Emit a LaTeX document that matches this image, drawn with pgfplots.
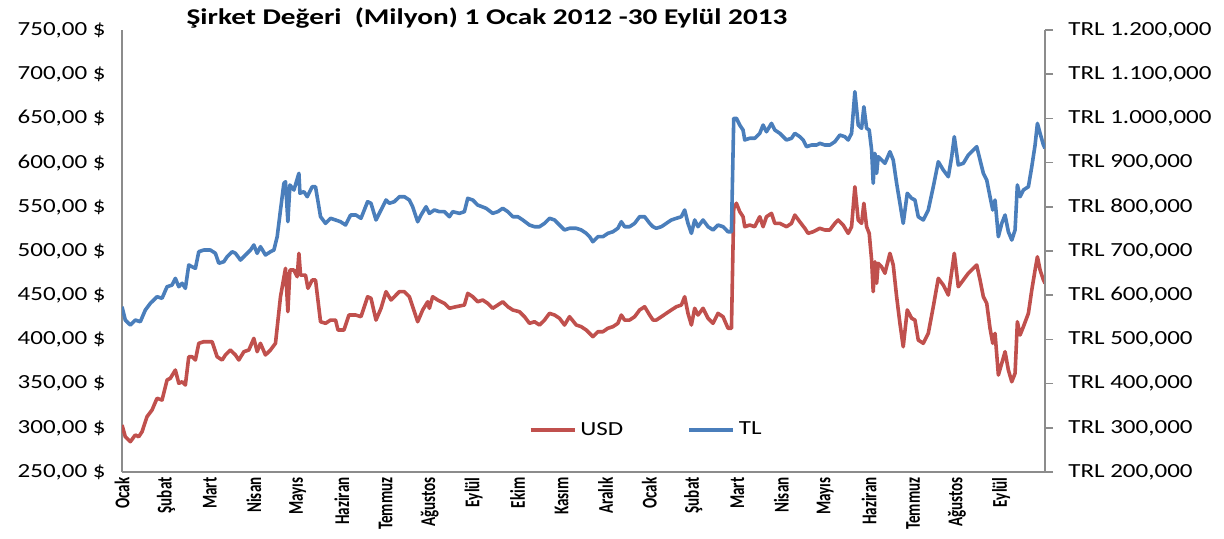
\documentclass[border=0pt]{standalone}
\usepackage{fontspec}
\usepackage{pgfplots}
\usepackage{pgfplotstable}
\pgfplotsset{compat=1.18}
\setmainfont{Carlito}
\newfontfamily\lbl{Carlito}[FakeStretch=1.25]
\newfontfamily\ttl{Carlito}[FakeStretch=1.3]
\newfontfamily\xl{Carlito}[FakeStretch=0.72]
\definecolor{usdred}{HTML}{C0504D}
\definecolor{tlblue}{HTML}{4A7EBB}
\definecolor{axgray}{HTML}{8C8C8C}

\pgfplotstableread{
x y
0 303.2
0.075 289.9
0.189 284.3
0.303 291.9
0.380 289.9
0.456 295.6
0.569 312.6
0.683 320.1
0.797 333.4
0.911 331.4
1.025 354.1
1.100 356.0
1.214 365.4
1.292 350.3
1.367 352.1
1.442 348.4
1.519 380.4
1.595 380.4
1.670 376.7
1.747 395.6
1.861 397.4
2.050 397.4
2.164 380.4
2.278 376.7
2.353 382.4
2.467 388.0
2.581 382.4
2.658 376.7
2.772 386.1
2.886 388.0
3.000 401.2
3.075 386.1
3.150 395.6
3.264 382.4
3.378 388.0
3.492 395.6
3.606 448.3
3.720 480.4
3.774 431.3
3.820 478.5
3.911 478.5
3.986 470.9
4.025 497.4
4.062 472.8
4.175 472.8
4.230 457.8
4.328 467.2
4.403 467.2
4.517 420.0
4.631 418.2
4.745 421.9
4.859 421.9
4.914 410.6
5.050 410.6
5.164 427.6
5.319 427.6
5.437 425.7
5.588 448.3
5.665 446.5
5.779 421.9
5.893 435.2
6.007 454.0
6.121 444.6
6.196 448.3
6.310 454.0
6.424 454.0
6.538 448.3
6.727 420.0
6.841 433.3
6.955 442.6
6.993 435.2
7.068 448.3
7.182 444.6
7.335 440.8
7.449 435.2
7.601 437.0
7.790 438.9
7.866 452.1
7.980 448.3
8.093 442.6
8.207 444.6
8.321 440.8
8.435 435.2
8.549 438.9
8.663 442.6
8.777 437.0
8.891 433.3
9.043 431.3
9.157 425.7
9.271 418.2
9.385 420.0
9.499 416.3
9.613 421.9
9.727 429.5
9.841 427.6
9.954 423.9
10.068 416.3
10.182 425.7
10.335 416.3
10.449 414.4
10.563 410.6
10.638 406.9
10.713 403.1
10.827 408.7
10.941 408.7
11.055 412.6
11.169 414.4
11.282 418.2
11.360 427.6
11.435 421.9
11.549 421.9
11.663 425.7
11.777 433.3
11.891 437.0
12.005 427.6
12.080 421.9
12.157 421.9
12.271 425.7
12.385 429.5
12.499 433.3
12.613 437.0
12.727 438.9
12.802 448.3
12.877 429.5
12.955 416.3
13.030 435.2
13.105 427.6
13.219 435.2
13.333 423.9
13.447 418.2
13.560 429.5
13.674 425.7
13.788 412.6
13.866 412.6
13.918 548.3
13.979 554.0
14.055 544.5
14.130 538.8
14.169 527.5
14.282 529.4
14.396 527.5
14.510 538.8
14.586 527.5
14.663 538.8
14.777 542.6
14.852 531.3
14.966 531.3
15.118 527.5
15.232 531.3
15.308 540.7
15.421 533.1
15.535 525.7
15.610 520.0
15.724 521.8
15.877 525.7
15.991 523.8
16.105 523.8
16.219 531.3
16.294 535.1
16.408 529.4
16.522 520.0
16.599 527.5
16.674 572.7
16.750 535.1
16.827 531.3
16.879 554.0
16.941 527.5
17.000 520.0
17.055 489.8
17.091 454.0
17.130 487.9
17.169 463.5
17.205 486.1
17.282 482.2
17.358 474.8
17.472 497.4
17.547 484.2
17.624 448.3
17.699 418.2
17.774 391.7
17.866 433.3
17.966 423.9
18.041 421.9
18.116 399.3
18.230 395.6
18.344 406.9
18.458 437.0
18.572 469.1
18.686 461.5
18.800 450.2
18.877 476.6
18.936 497.4
19.027 459.6
19.141 467.2
19.255 474.8
19.447 484.2
19.522 467.2
19.597 448.3
19.674 440.8
19.749 412.6
19.811 395.6
19.863 406.9
19.939 359.7
20.016 373.0
20.091 386.1
20.166 365.4
20.244 352.1
20.319 361.7
20.371 420.0
20.433 405.0
20.508 414.4
20.622 429.5
20.699 455.9
20.774 478.5
20.827 493.5
20.888 478.5
20.964 467.2
21.000 463.5
}\usdtable

\pgfplotstableread{
x y
0 574000
0.075 543800
0.189 532600
0.303 543800
0.417 540000
0.531 566600
0.645 581600
0.797 596600
0.911 593000
1.025 619200
1.139 623000
1.214 638200
1.292 619200
1.367 627000
1.442 615600
1.519 668400
1.595 664400
1.670 660800
1.747 698400
1.861 702200
2.011 702200
2.125 694800
2.203 672200
2.317 675800
2.392 687000
2.506 698400
2.581 694800
2.695 679600
2.809 691000
2.923 702200
3.000 713600
3.075 694800
3.150 709800
3.264 691000
3.378 698400
3.456 702200
3.531 732400
3.606 792800
3.683 853200
3.720 856800
3.774 766200
3.820 849400
3.911 838000
4.025 875800
4.048 830600
4.139 834200
4.214 822800
4.328 845400
4.403 845400
4.517 777600
4.631 762600
4.745 774000
4.859 770200
4.973 766200
5.087 758800
5.201 781400
5.323 781400
5.437 774000
5.588 811600
5.665 808000
5.779 770200
5.893 792800
6.007 815400
6.082 808000
6.196 811600
6.310 822800
6.424 822800
6.538 815400
6.613 800200
6.727 766200
6.804 781400
6.918 800200
6.993 785200
7.107 792800
7.221 789000
7.335 789000
7.449 777600
7.524 789000
7.677 785200
7.790 789000
7.866 819200
7.980 815400
8.093 804000
8.285 796600
8.435 785200
8.549 789000
8.663 796600
8.777 789000
8.891 777600
9.005 777600
9.119 770200
9.271 758800
9.385 755000
9.499 755000
9.613 762600
9.727 774000
9.841 770200
9.954 758800
10.068 747600
10.182 751400
10.335 751400
10.449 747600
10.563 740000
10.638 732400
10.713 721000
10.827 732400
10.941 732400
11.055 740000
11.169 743600
11.282 751400
11.360 766200
11.435 755000
11.549 755000
11.663 762600
11.777 777600
11.891 777600
12.005 762600
12.080 755000
12.157 751400
12.271 755000
12.385 762600
12.499 770200
12.613 774000
12.727 777600
12.802 792800
12.877 762600
12.955 740000
13.030 770200
13.105 755000
13.219 770200
13.333 755000
13.447 747600
13.560 758800
13.674 755000
13.788 743600
13.866 743600
13.918 1000200
13.979 1000200
14.055 985000
14.130 973800
14.169 951200
14.282 955000
14.396 955000
14.510 966200
14.586 985000
14.663 969800
14.777 988800
14.852 973800
14.966 966200
15.118 951200
15.232 955000
15.308 966200
15.421 958600
15.497 951200
15.574 936000
15.688 939800
15.802 939800
15.877 943600
15.991 939800
16.105 939800
16.219 947200
16.333 962400
16.446 958600
16.522 951200
16.599 966200
16.674 1060400
16.750 985000
16.827 977600
16.879 1026400
16.941 977600
17.000 973800
17.055 928400
17.091 853200
17.130 921000
17.169 875800
17.205 913400
17.282 905800
17.358 898400
17.472 924600
17.547 905800
17.624 853200
17.699 808000
17.774 762600
17.866 830600
17.966 819200
18.041 815400
18.116 777600
18.230 770200
18.344 792800
18.458 845400
18.572 902000
18.686 883200
18.800 868000
18.877 913400
18.936 958600
19.027 894600
19.141 898400
19.255 917200
19.447 936000
19.522 905800
19.597 875800
19.674 860600
19.749 822800
19.811 792800
19.863 815400
19.939 732400
20.016 762600
20.091 781400
20.166 743600
20.244 724800
20.319 747600
20.371 849400
20.433 822800
20.508 838000
20.622 845400
20.699 890800
20.774 939800
20.827 988800
20.888 966200
20.964 939800
21.000 932400
}\tltable

\begin{document}
\begin{tikzpicture}
\path[use as bounding box] (-61pt,-33pt) rectangle (551pt,236pt);
\begin{axis}[
  at={(0,0)}, anchor=south west,
  scale only axis, width=461.5pt, height=221pt,
  xmin=0, xmax=21, ymin=250, ymax=750,
  axis x line*=bottom, axis y line*=left,
  axis line style={axgray, line width=0.8pt},
  major tick length=0pt,
  xtick={0,...,20},
  xticklabels={Ocak,Şubat,Mart,Nisan,Mayıs,Haziran,Temmuz,Ağustos,Eylül,Ekim,Kasım,Aralık,Ocak,Şubat,Mart,Nisan,Mayıs,Haziran,Temmuz,Ağustos,Eylül},
  xticklabel style={rotate=90, anchor=east, inner sep=0pt, font=\xl\bfseries\fontsize{10.5}{11}\selectfont},
  xticklabel shift=2.5pt,
  ytick={250,300,...,750},
  yticklabels={{250,00 \$},{300,00 \$},{350,00 \$},{400,00 \$},{450,00 \$},{500,00 \$},{550,00 \$},{600,00 \$},{650,00 \$},{700,00 \$},{750,00 \$}},
  yticklabel style={anchor=east, inner sep=0pt, font=\lbl\fontsize{10}{12}\selectfont},
  yticklabel shift=8pt,
  title={Şirket Değeri~~(Milyon) 1 Ocak 2012 -30 Eylül 2013},
  title style={at={(0.3955,1)}, anchor=center, inner sep=0pt, font=\ttl\bfseries\fontsize{11.25}{13}\selectfont},
]
\addplot[usdred, line width=1.8pt, line join=round] table[x=x,y=y] {\usdtable};
\end{axis}
\begin{axis}[
  at={(0,0)}, anchor=south west,
  scale only axis, width=461.5pt, height=221pt,
  xmin=0, xmax=21, ymin=200000, ymax=1200000,
  axis x line=none, axis y line*=right,
  axis line style={axgray, line width=0.8pt},
  xtick=\empty,
  ytick={200000,300000,...,1200000},
  scaled y ticks=false,
  yticklabels={{TRL 200,000},{TRL 300,000},{TRL 400,000},{TRL 500,000},{TRL 600,000},{TRL 700,000},{TRL 800,000},{TRL 900,000},{TRL 1.000,000},{TRL 1.100,000},{TRL 1.200,000}},
  tick align=outside, major tick length=4pt,
  ytick style={axgray, line width=0.8pt},
  yticklabel style={anchor=west, inner sep=0pt, font=\lbl\fontsize{10}{12}\selectfont},
  yticklabel shift=7.5pt,
  legend style={at={(0.569,0.095)}, anchor=center, draw=none, fill=none,
    legend columns=2, font=\lbl\fontsize{10}{12}\selectfont,
    /tikz/every even column/.append style={column sep=30pt}},
  legend image code/.code={\draw[#1] (0pt,0pt) -- (22pt,0pt);},
]
\addlegendimage{usdred, line width=1.8pt}
\addlegendentry{USD}
\addplot[tlblue, line width=1.8pt, line join=round] table[x=x,y=y] {\tltable};
\addlegendentry{TL}
\end{axis}
\end{tikzpicture}
\end{document}
